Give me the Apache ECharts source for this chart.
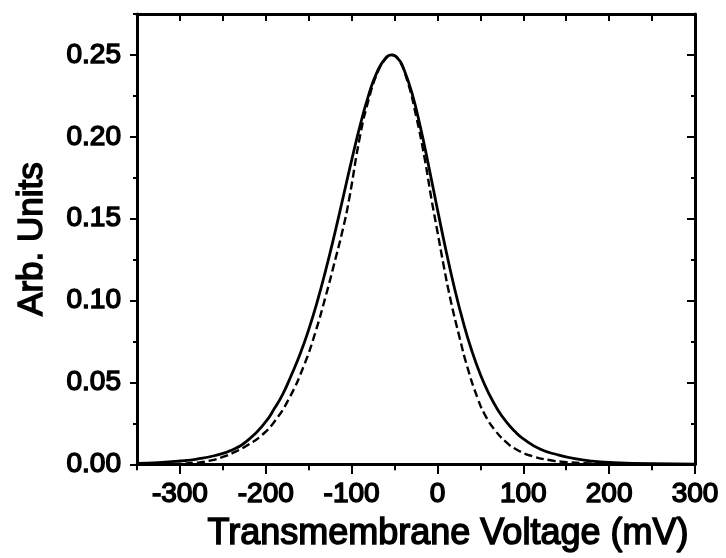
<!DOCTYPE html>
<html>
<head>
<meta charset="utf-8">
<script src="https://cdn.jsdelivr.net/npm/echarts@6/dist/echarts.min.js"></script>
<style>
html,body{margin:0;padding:0;background:#fff;}
#chart{width:726px;height:558px;}
</style>
</head>
<body>
<div id="chart"></div>
<script>
// ---- data ----
const solidX = [-350,-325,-300,-280,-260,-240,-220,-200,-190,-180,-170,-160,-150,-140,-130,-120,-110,-100,-90,-80,-70,-60,-53,-45,-40,-30,-20,-10,0,10,20,30,40,50,60,70,80,90,100,120,140,160,180,200,250,300];
const solidY = [0.0005,0.001,0.002,0.0032,0.0052,0.0085,0.015,0.026,0.034,0.043,0.0547,0.0673,0.0822,0.0994,0.1189,0.1402,0.1628,0.1856,0.2071,0.2258,0.240,0.2483,0.250,0.2471,0.2424,0.2273,0.2062,0.1815,0.1556,0.1304,0.1072,0.0868,0.0693,0.0548,0.043,0.0335,0.026,0.0201,0.0155,0.0091,0.0058,0.0034,0.0019,0.0011,0.0003,0.0001];

const dashX = [-350,-300,-280,-265,-250,-234,-220,-204,-190,-173,-155,-142,-130,-121,-110,-103,-90,-80,-70,-60,-53,-45,-35,-25,-15,-7,0,7,15,25,35,47,55,66,80,92,110,130,150,180,220,300];
const dashY = [0,0.0003,0.001,0.0022,0.0045,0.008,0.012,0.018,0.026,0.040,0.061,0.081,0.103,0.121,0.144,0.1616,0.201,0.223,0.239,0.248,0.250,0.247,0.234,0.213,0.187,0.162,0.142,0.122,0.101,0.079,0.059,0.040,0.0305,0.0215,0.0135,0.009,0.005,0.0026,0.0013,0.0005,0.0001,0];

const xMajorTicks = [-300,-200,-100,0,100,200,300];
const yMajorTicks = [0,0.05,0.10,0.15,0.20,0.25];
const xTitle = 'Transmembrane Voltage (mV)';
const yTitle = 'Arb. Units';

const FONT = 'Arial, "Liberation Sans", sans-serif';
const black = '#000';

function pairs(xs, ys){ return xs.map((x,i)=>[x, ys[i]]); }

const chart = echarts.init(document.getElementById('chart'), null, {renderer:'canvas'});
const gridRect = {left:137, right:31, top:14, bottom:93};
const labelStyle = {color:black, fontFamily:FONT, fontSize:28, textBorderColor:black, textBorderWidth:1.5};

const option = {
  backgroundColor:'#fff',
  animation:false,
  grid:[Object.assign({containLabel:false}, gridRect), Object.assign({containLabel:false}, gridRect)],
  xAxis:[
    {
      type:'value', gridIndex:0, position:'bottom', min:-350, max:300, interval:50,
      axisLine:{show:true, onZero:false, lineStyle:{color:black, width:3}},
      axisTick:{show:true, inside:false, length:6, lineStyle:{color:black, width:2}},
      axisLabel:{show:true, customValues:xMajorTicks, margin:16, ...labelStyle,
        formatter:v=>String(Math.round(v))},
      splitLine:{show:false},
      name:xTitle, nameLocation:'middle', nameGap:52,
      nameTextStyle:{color:black, fontFamily:FONT, fontSize:36, textBorderColor:black, textBorderWidth:1.5, padding:[0,0,0,64]}
    },
    {
      type:'value', gridIndex:0, position:'top', min:-350, max:300, interval:50,
      axisLine:{show:true, onZero:false, lineStyle:{color:black, width:3}},
      axisTick:{show:true, inside:true, length:7, lineStyle:{color:black, width:2}},
      axisLabel:{show:false}, splitLine:{show:false}
    },
    {
      type:'value', gridIndex:1, position:'bottom', min:-350, max:300, interval:50,
      axisLine:{show:false, onZero:false},
      axisTick:{show:true, inside:false, length:9, customValues:xMajorTicks, lineStyle:{color:black, width:2}},
      axisLabel:{show:false}, splitLine:{show:false}
    }
  ],
  yAxis:[
    {
      type:'value', gridIndex:0, position:'left', min:0, max:0.275, interval:0.025,
      axisLine:{show:true, onZero:false, lineStyle:{color:black, width:3}},
      axisTick:{show:true, inside:false, length:4, lineStyle:{color:black, width:2}},
      axisLabel:{show:true, customValues:yMajorTicks, margin:16, ...labelStyle,
        formatter:v=>v.toFixed(2)},
      splitLine:{show:false},
      name:yTitle, nameLocation:'middle', nameGap:87, nameRotate:90,
      nameTextStyle:{color:black, fontFamily:FONT, fontSize:35, textBorderColor:black, textBorderWidth:1.5}
    },
    {
      type:'value', gridIndex:0, position:'right', min:0, max:0.275, interval:0.025,
      axisLine:{show:true, onZero:false, lineStyle:{color:black, width:3}},
      axisTick:{show:true, inside:true, length:4, lineStyle:{color:black, width:2}},
      axisLabel:{show:false}, splitLine:{show:false}
    },
    {
      type:'value', gridIndex:1, position:'left', min:0, max:0.275, interval:0.025,
      axisLine:{show:false, onZero:false},
      axisTick:{show:true, inside:false, length:7, customValues:yMajorTicks, lineStyle:{color:black, width:2}},
      axisLabel:{show:false}, splitLine:{show:false}
    },
    {
      type:'value', gridIndex:1, position:'right', min:0, max:0.275, interval:0.025,
      axisLine:{show:false, onZero:false},
      axisTick:{show:true, inside:true, length:8, customValues:yMajorTicks, lineStyle:{color:black, width:2}},
      axisLabel:{show:false}, splitLine:{show:false}
    }
  ],
  series:[
    {
      type:'line', name:'solid', xAxisIndex:0, yAxisIndex:0,
      data:pairs(solidX, solidY), showSymbol:false, symbol:'none',
      smooth:0.5,
      lineStyle:{color:black, width:2.8, type:'solid'}, z:3
    },
    {
      type:'line', name:'dashed', xAxisIndex:0, yAxisIndex:0,
      data:pairs(dashX, dashY), showSymbol:false, symbol:'none',
      smooth:0.5,
      lineStyle:{color:black, width:2.4, type:[8,4]}, z:2
    }
  ]
};
chart.setOption(option);
</script>
</body>
</html>
